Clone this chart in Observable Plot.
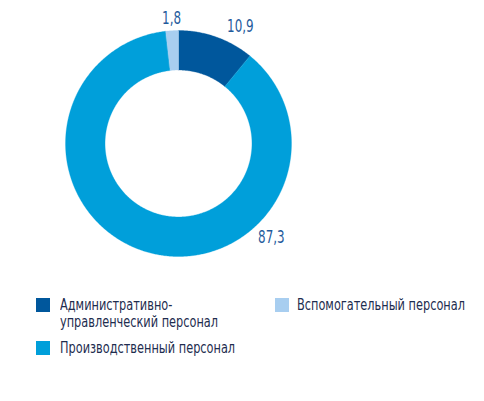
<!DOCTYPE html>
<html>
<head>
<meta charset="utf-8">
<script src="https://cdn.jsdelivr.net/npm/d3@7"></script>
<script src="https://cdn.jsdelivr.net/npm/@observablehq/plot@0.6"></script>
<style>
  html, body { margin: 0; padding: 0; background: #fff; }
  body { width: 484px; height: 401px; position: relative; overflow: hidden;
         font-family: "Liberation Sans Narrow", "DejaVu Sans Condensed", "Roboto", sans-serif; }
  #chart { position: absolute; left: 0; top: 0; }
  .lg { position: absolute; font-size: 15px; line-height: 17px; color: #1e2d4f;
        white-space: nowrap; transform: scaleX(0.84); transform-origin: 0 0; }
  .sw { position: absolute; width: 14px; height: 14px; }
</style>
</head>
<body>
<div id="chart"></div>
<div id="legend"></div>
<script>
// ---- data ----
const categories = [
  "Административно-управленческий персонал",
  "Производственный персонал",
  "Вспомогательный персонал"
];
const values = [10.9, 87.3, 1.8];
const valueLabels = ["10,9", "87,3", "1,8"];
const colors = ["#00579c", "#009fda", "#a8cef0"];

// ---- layout config (not data) ----
const innerRatio = 0.65;
const labelAngleDeg = [27.9, 135.4, -3.2];
const labelRadius = [1.17, 1.17, 1.105];

// build slice polygons from the values
const total = d3.sum(values);
const pts = [];
let acc = 0;
values.forEach((v, i) => {
  const a0 = acc / total * 2 * Math.PI;
  acc += v;
  const a1 = acc / total * 2 * Math.PI;
  const n = Math.max(2, Math.ceil((a1 - a0) / (Math.PI / 360)));
  for (let k = 0; k <= n; k++) {
    const a = a0 + (a1 - a0) * k / n;
    pts.push({cat: categories[i], x: Math.sin(a), y: Math.cos(a)});
  }
  for (let k = n; k >= 0; k--) {
    const a = a0 + (a1 - a0) * k / n;
    pts.push({cat: categories[i], x: innerRatio * Math.sin(a), y: innerRatio * Math.cos(a)});
  }
});

const labels = valueLabels.map((t, i) => {
  const a = labelAngleDeg[i] * Math.PI / 180;
  return {text: t, x: labelRadius[i] * Math.sin(a), y: labelRadius[i] * Math.cos(a)};
});

const W = 484, H = 280;
const plot = Plot.plot({
  width: W,
  height: H,
  marginLeft: 65,
  marginRight: W - 291,
  marginTop: 30,
  marginBottom: H - 256,
  x: {domain: [-1, 1], axis: null},
  y: {domain: [-1, 1], axis: null},
  color: {domain: categories, range: colors},
  style: {background: "transparent", overflow: "visible",
          fontFamily: '"Liberation Sans Narrow", "DejaVu Sans Condensed", sans-serif'},
  marks: [
    Plot.line(pts, {x: "x", y: "y", z: "cat", fill: "cat", stroke: "cat", strokeWidth: 0.3, curve: "linear-closed"}),
    Plot.text(labels, {x: "x", y: "y", text: "text", fill: "#1f5b9c", fontSize: 17, textAnchor: "middle", lineAnchor: "middle"})
  ]
});
document.getElementById("chart").appendChild(plot);

// narrow the value labels horizontally (condensed look)
d3.select(plot).selectAll('g[aria-label="text"] text').each(function() {
  const tr = this.getAttribute("transform");
  if (tr) this.setAttribute("transform", tr + " scale(0.78,1)");
});

// legend (HTML)
const legendLayout = [
  {sx: 36, sy: 298, tx: 60, ty: 297, text: "Административно-<br>управленческий персонал"},
  {sx: 36, sy: 341, tx: 60, ty: 340, text: categories[1]},
  {sx: 275, sy: 298, tx: 297, ty: 297, text: categories[2]}
];
const order = [0, 1, 2];
const lg = document.getElementById("legend");
order.forEach((ci, j) => {
  const L = legendLayout[j];
  const sw = document.createElement("div");
  sw.className = "sw";
  sw.style.left = L.sx + "px"; sw.style.top = L.sy + "px";
  sw.style.background = colors[ci];
  lg.appendChild(sw);
  const t = document.createElement("div");
  t.className = "lg";
  t.style.left = L.tx + "px"; t.style.top = L.ty + "px";
  t.innerHTML = L.text;
  lg.appendChild(t);
});
</script>
</body>
</html>
